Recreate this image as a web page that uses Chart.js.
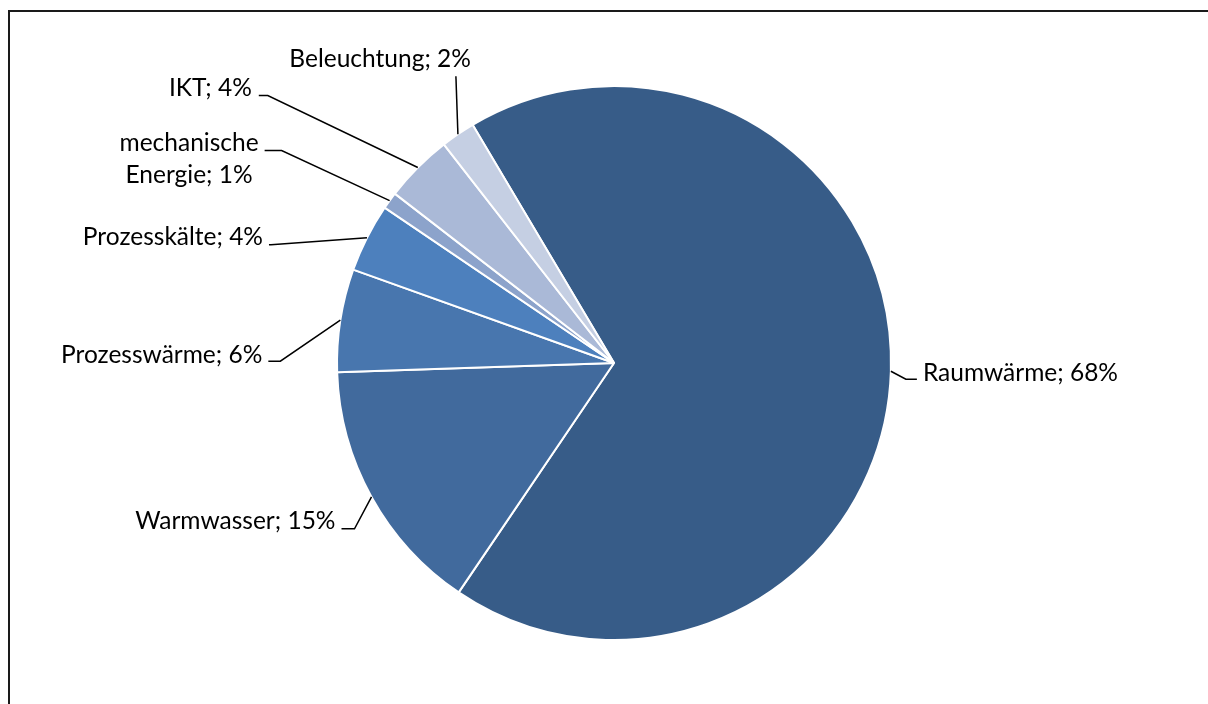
<!DOCTYPE html>
<html>
<head>
<meta charset="utf-8">
<script src="https://cdn.jsdelivr.net/npm/chart.js@4.4.1/dist/chart.umd.min.js"></script>
<style>
  body { margin: 0; background: #fff; }
  canvas { display: block; }
</style>
</head>
<body>
<canvas id="chart" width="1208" height="704"></canvas>
<script>
const categories = ["Raumwärme", "Warmwasser", "Prozesswärme", "Prozesskälte", "mechanische Energie", "IKT", "Beleuchtung"];
const shares = [68, 15, 6, 4, 1, 4, 2];
const sliceColors = ["#375C88", "#416A9D", "#4876AE", "#4D80BD", "#8CA3CB", "#AAB9D7", "#C5CFE3"];

// leader line layout per label: elbow offset from the slice edge, horizontal run, text offset
const labelLayout = [
  { dx: 15, dy: 8, run: 11, tx: 6, ty: -6, align: "left" },
  { dx: -17, dy: 32, run: -13, tx: -6, ty: -8, align: "right" },
  { dx: -60, dy: 41, run: -12, tx: -6, ty: -6, align: "right" },
  { dx: -96, dy: 7, run: -2, tx: -6, ty: -8, align: "right" },
  { dx: -108, dy: -50, run: -17, tx: -6, ty: -7, align: "right", wrap: 180 },
  { dx: -150, dy: -72, run: -9, tx: -7, ty: -7, align: "right" },
  { dx: -2, dy: -58, run: 0, tx: 15, ty: -17, align: "right" }
];

const FONT = "24.5px Lato";
const LINE_H = 32;

function wrapText(ctx, text, maxWidth) {
  if (!maxWidth) return [text];
  const words = text.split(" ");
  const lines = [];
  let cur = "";
  words.forEach(w => {
    const test = cur ? cur + " " + w : w;
    if (cur && ctx.measureText(test).width > maxWidth) {
      lines.push(cur);
      cur = w;
    } else {
      cur = test;
    }
  });
  if (cur) lines.push(cur);
  return lines;
}

const frame = {
  id: "frame",
  beforeDraw(chart) {
    const ctx = chart.ctx;
    ctx.save();
    ctx.strokeStyle = "#1a1a1a";
    ctx.lineWidth = 2;
    ctx.strokeRect(9, 11, 1400, 900);
    ctx.restore();
  }
};

const leaderLabels = {
  id: "leaderLabels",
  afterDatasetsDraw(chart) {
    const ctx = chart.ctx;
    const arcs = chart.getDatasetMeta(0).data;
    ctx.save();
    ctx.font = FONT;
    ctx.fillStyle = "#000";
    ctx.strokeStyle = "#000";
    ctx.lineWidth = 1.5;
    ctx.textBaseline = "middle";
    ctx.textAlign = "center";
    arcs.forEach((arc, i) => {
      const p = arc.getProps(["x", "y", "startAngle", "endAngle", "outerRadius"], true);
      const mid = (p.startAngle + p.endAngle) / 2;
      const ax = p.x + Math.cos(mid) * p.outerRadius;
      const ay = p.y + Math.sin(mid) * p.outerRadius;
      const lay = labelLayout[i];
      const ex = ax + lay.dx, ey = ay + lay.dy;
      const hx = ex + lay.run;

      ctx.beginPath();
      ctx.moveTo(ax, ay);
      ctx.lineTo(ex, ey);
      if (lay.run) ctx.lineTo(hx, ey);
      ctx.stroke();

      const text = categories[i] + "; " + shares[i] + "%";
      const lines = wrapText(ctx, text, lay.wrap);
      const blockW = Math.max(...lines.map(l => ctx.measureText(l).width));
      const anchorX = hx + lay.tx;
      const cx = lay.align === "left" ? anchorX + blockW / 2 : anchorX - blockW / 2;
      lines.forEach((l, k) => {
        ctx.fillText(l, cx, ey + lay.ty + k * LINE_H);
      });
    });
    ctx.restore();
  }
};

new Chart(document.getElementById("chart"), {
  type: "pie",
  data: {
    labels: categories,
    datasets: [{
      data: shares,
      backgroundColor: sliceColors,
      borderColor: "#ffffff",
      borderWidth: 2
    }]
  },
  options: {
    responsive: false,
    animation: false,
    rotation: -30.7,
    radius: 277,
    layout: { padding: { left: 20, right: 0, top: 22, bottom: 0 } },
    plugins: {
      legend: { display: false },
      tooltip: { enabled: false }
    }
  },
  plugins: [frame, leaderLabels]
});
</script>
</body>
</html>
